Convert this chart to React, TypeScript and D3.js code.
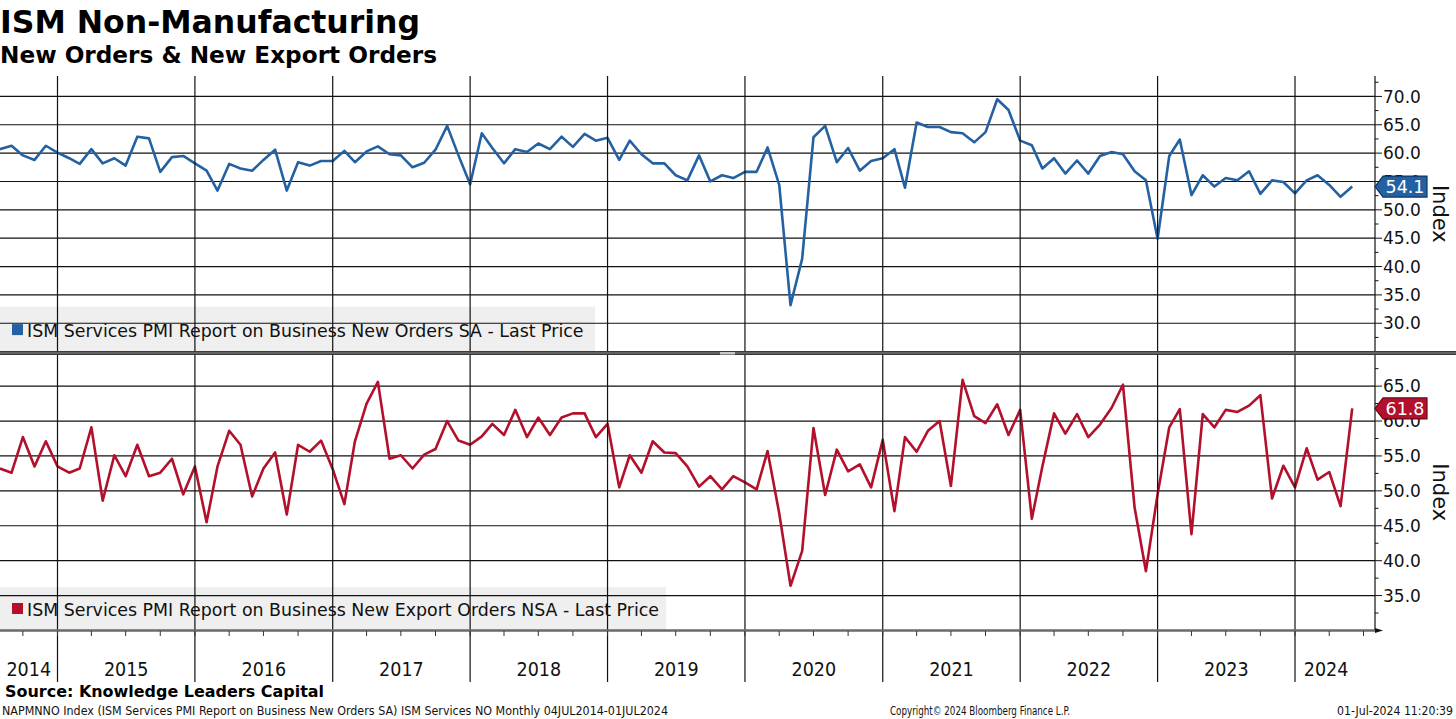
import React from 'react';
import * as d3 from 'd3';

// monthly points, first one is Aug 2014 (as placed on the chart)
const newOrders = [
	60.7, 61.3, 59.6, 58.8, 61.3,
	60.1, 59.1, 58.1, 60.7, 58.2, 59.1, 57.8, 62.9, 62.6, 56.7, 59.3, 59.5,
	58.2, 56.9, 53.4, 58.1, 57.3, 56.9, 58.8, 60.6, 53.4, 58.4, 57.8, 58.6,
	58.6, 60.4, 58.4, 60.3, 61.2, 59.8, 59.6, 57.5, 58.3, 60.6, 64.8, 59.6,
	54.5, 63.5, 60.9, 58.2, 60.7, 60.2, 61.7, 60.7, 62.9, 61.1, 63.4, 62.2,
	62.7, 58.8, 62.2, 59.8, 58.2, 58.2, 56.1, 55.2, 59.6, 55.0, 56.1, 55.6,
	56.7, 56.7, 61.0, 54.4, 33.2, 41.4, 62.8, 64.8, 58.4, 60.9, 56.9, 58.6,
	59.1, 60.7, 53.9, 65.4, 64.6, 64.6, 63.7, 63.5, 61.9, 63.7, 69.5, 67.6,
	62.2, 61.4, 57.3, 59.1, 56.4, 58.7, 56.4, 59.5, 60.2, 59.8, 56.8, 55.2,
	44.9, 59.5, 62.4, 52.6, 56.1, 54.1, 55.6, 55.2, 56.8, 52.8, 55.2, 54.9,
	52.9, 55.2, 56.1, 54.4, 52.3, 54.1,
];

const exportOrders = [
	53.2, 52.6, 57.7, 53.5, 57.1,
	53.5, 52.6, 53.2, 59.1, 48.6, 55.1, 52.1, 56.6, 52.1, 52.6, 54.6, 49.5,
	53.5, 45.5, 53.5, 58.6, 56.6, 49.2, 53.2, 55.5, 46.6, 56.6, 55.6, 57.2,
	53.1, 48.1, 57.1, 62.5, 65.6, 54.6, 55.1, 53.2, 55.2, 56.0, 60.0, 57.2,
	56.6, 57.8, 59.6, 58.0, 61.6, 57.7, 60.5, 58.0, 60.5, 61.1, 61.1, 57.7,
	59.6, 50.5, 55.1, 52.6, 57.1, 55.5, 55.4, 53.5, 50.6, 52.1, 50.2, 52.1,
	51.2, 50.2, 55.7, 46.8, 36.4, 41.4, 59.0, 49.4, 55.9, 52.8, 53.8, 50.5,
	57.3, 47.1, 57.7, 55.6, 58.6, 60.0, 50.7, 65.9, 60.7, 59.7, 62.4, 58.0,
	61.6, 46.0, 53.5, 61.1, 58.2, 61.0, 57.7, 59.5, 61.9, 65.2, 47.6, 38.5,
	49.5, 59.1, 61.7, 43.8, 61.0, 59.1, 61.6, 61.3, 62.2, 63.7, 48.9, 53.6,
	50.5, 56.1, 51.6, 52.7, 47.8, 61.8,
];

const dates = newOrders.map((_, i) => new Date(2014, 7 + i, 1));

const yearLabels = ['2014', '2015', '2016', '2017', '2018', '2019', '2020', '2021', '2022', '2023', '2024'];
const topTicks = [30, 35, 40, 45, 50, 55, 60, 65, 70];
const bottomTicks = [35, 40, 45, 50, 55, 60, 65];

const topLegend = 'ISM Services PMI Report on Business New Orders SA - Last Price';
const bottomLegend = 'ISM Services PMI Report on Business New Export Orders NSA - Last Price';

const BLUE = '#2461a3';
const RED = '#b2102b';
const FONT = '"DejaVu Sans", Verdana, sans-serif';
const CONDENSED = '"DejaVu Sans Condensed", "DejaVu Sans", sans-serif';

const W = 1456;
const H = 719;
const AXIS_X = 1375;

const x = d3.scaleTime()
	.domain([new Date(2015, 0, 1), new Date(2024, 0, 1)])
	.range([57.5, 1295]);
const yTop = d3.scaleLinear().domain([25, 73.6]).range([351.6, 76]);
const yBot = d3.scaleLinear().domain([30, 69.6]).range([630.5, 354]);

type PanelProps = {
	values: number[];
	y: d3.ScaleLinear<number, number>;
	ticks: number[];
	color: string;
	tagBorder: string;
	legend: string;
	legendWidth: number;
	legendTop: number;
};

const Panel: React.FC<PanelProps> = ({ values, y, ticks, color, tagBorder, legend, legendWidth, legendTop }) => {
	const [bottom, top] = y.range();
	const line = d3.line<number>()
		.x((_, i) => x(dates[i]))
		.y(d => y(d));
	const [lo, hi] = y.domain();
	const minor = d3.range(Math.ceil(lo / 2.5) * 2.5, hi, 2.5);
	const last = values[values.length - 1];
	const yl = y(last);

	return (
		<g>
			{/* legend box sits under the grid */}
			<rect x={0} y={legendTop} width={legendWidth} height={bottom - legendTop} fill="#efefef" />
			<rect x={12} y={bottom - 27.5} width={11} height={11} fill={color} />
			<text x={27} y={bottom - 15} fontFamily={FONT} fontSize={17.4} fill="#111">{legend}</text>

			{ticks.map(t => (
				<line key={t} x1={0} x2={AXIS_X} y1={y(t)} y2={y(t)} stroke="#111" strokeWidth={1.2} />
			))}

			<path d={line(values) ?? ''} fill="none" stroke={color} strokeWidth={2.6} strokeLinejoin="round" />

			{/* right axis */}
			<line x1={AXIS_X} x2={AXIS_X} y1={top} y2={bottom} stroke="#111" strokeWidth={1.2} />
			{minor.map(t => (
				<line key={t} x1={AXIS_X} x2={AXIS_X + (t % 5 === 0 ? 7 : 3.5)} y1={y(t)} y2={y(t)} stroke="#111" strokeWidth={1} />
			))}
			{ticks.map(t => (
				<text key={t} x={AXIS_X + 8} y={y(t)} dy="0.36em" fontFamily={FONT} fontSize={17} fill="#111">
					{t.toFixed(1)}
				</text>
			))}
			<text
				transform={`translate(1441, ${(top + bottom) / 2}) rotate(90)`}
				textAnchor="middle"
				dy="0.36em"
				fontFamily={FONT}
				fontSize={21}
				fill="#111"
			>
				Index
			</text>

			{/* last value tag, drawn over the tick labels as in Bloomberg charts */}
			<path
				d={`M${AXIS_X},${yl} L${AXIS_X + 8},${yl - 10.5} L${AXIS_X + 52},${yl - 10.5} L${AXIS_X + 52},${yl + 10.5} L${AXIS_X + 8},${yl + 10.5} Z`}
				fill={color}
				stroke={tagBorder}
				strokeWidth={1.2}
			/>
			<text x={AXIS_X + 30} y={yl} dy="0.36em" textAnchor="middle" fontFamily={FONT} fontSize={17.5} fill="#fff">
				{last.toFixed(1)}
			</text>
		</g>
	);
};

export default function App() {
	const years = d3.timeYear.range(new Date(2015, 0, 1), new Date(2025, 0, 1));
	const quarters = d3.timeMonth.every(3)!.range(new Date(2014, 9, 1), new Date(2024, 7, 1));
	const lastX = x(dates[dates.length - 1]) + 5;

	const labelX = (label: string) => {
		const yr = +label;
		const a = Math.max(0, x(new Date(yr, 0, 1)));
		const b = Math.min(lastX, x(new Date(yr + 1, 0, 1)));
		return (a + b) / 2;
	};

	return (
		<div style={{ position: 'absolute', left: 0, top: 0 }}>
			<svg width={W} height={H} style={{ display: 'block', background: '#fff' }}>
				<text x={0} y={33} fontFamily={FONT} fontWeight="bold" fontSize={31.5} fill="#000">ISM Non-Manufacturing</text>
				<text x={0} y={63} fontFamily={FONT} fontWeight="bold" fontSize={23.2} fill="#000">New Orders &amp; New Export Orders</text>

				<Panel
					values={newOrders}
					y={yTop}
					ticks={topTicks}
					color={BLUE}
					tagBorder="#0d3668"
					legend={topLegend}
					legendWidth={595}
					legendTop={306.5}
				/>
				<Panel
					values={exportOrders}
					y={yBot}
					ticks={bottomTicks}
					color={RED}
					tagBorder="#6e0618"
					legend={bottomLegend}
					legendWidth={666}
					legendTop={587}
				/>

				{/* year separators */}
				{years.map(d => (
					<line key={+d} x1={x(d)} x2={x(d)} y1={76} y2={682} stroke="#111" strokeWidth={1.2} />
				))}

				{/* panel splitter */}
				<rect x={0} y={351} width={W} height={4} fill="#3a3a3a" />
				<line x1={0} x2={W} y1={353} y2={353} stroke="#8a8a8a" strokeWidth={1} />
				<rect x={720} y={352} width={15} height={2.5} fill="#c8c8c8" />

				{/* time axis */}
				<line x1={0} x2={AXIS_X} y1={630.5} y2={630.5} stroke="#6a6a6a" strokeWidth={2.5} />
				<path d={`M${AXIS_X},628 L${AXIS_X + 8},630.5 L${AXIS_X},633 Z`} fill="#111" />
				{quarters.map(d => (
					<line key={+d} x1={x(d)} x2={x(d)} y1={631} y2={636} stroke="#333" strokeWidth={1} />
				))}
				{yearLabels.map(l => (
					<text key={l} x={labelX(l)} y={676} textAnchor="middle" fontFamily={CONDENSED} fontSize={19.5} fill="#111">
						{l}
					</text>
				))}

				{/* footer */}
				<text x={5} y={697} fontFamily={FONT} fontWeight="bold" fontSize={16} fill="#000" textLength={319} lengthAdjust="spacingAndGlyphs">
					Source: Knowledge Leaders Capital
				</text>
				<text x={2} y={715} fontFamily={CONDENSED} fontSize={11.5} fill="#111" textLength={666} lengthAdjust="spacingAndGlyphs">
					NAPMNNO Index (ISM Services PMI Report on Business New Orders SA) ISM Services NO  Monthly 04JUL2014-01JUL2024
				</text>
				<text x={890} y={715} fontFamily={CONDENSED} fontSize={11.5} fill="#111" textLength={180} lengthAdjust="spacingAndGlyphs">
					Copyright© 2024 Bloomberg Finance L.P.
				</text>
				<text x={1337} y={715} fontFamily={CONDENSED} fontSize={11.5} fill="#111" textLength={116} lengthAdjust="spacingAndGlyphs">
					01-Jul-2024 11:20:39
				</text>
			</svg>
		</div>
	);
}
